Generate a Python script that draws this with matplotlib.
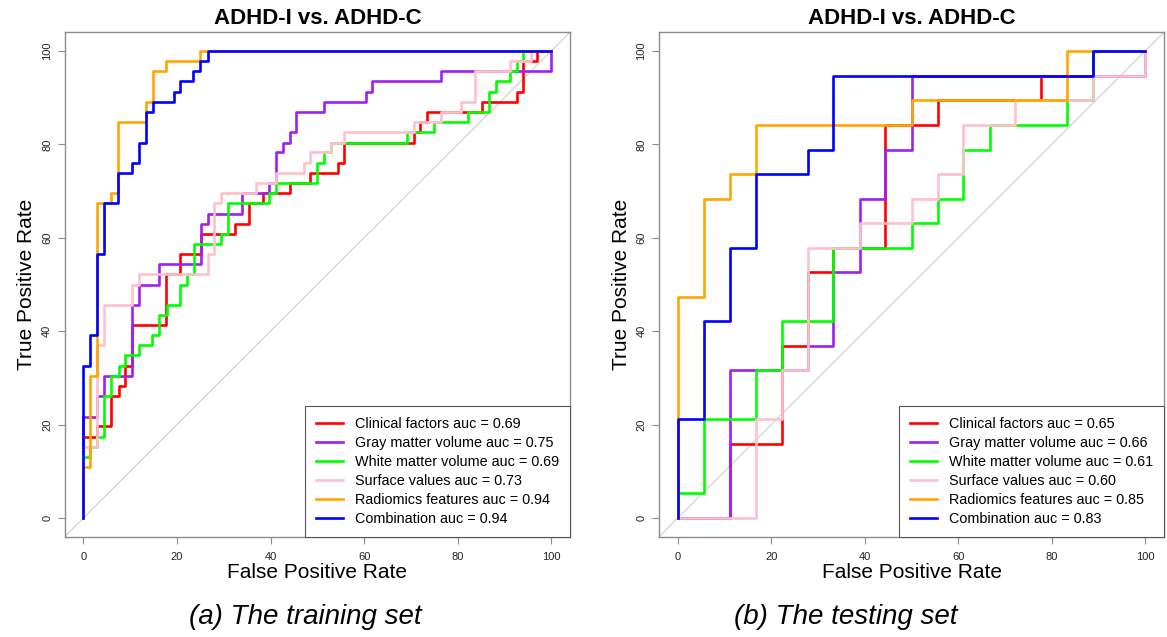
import matplotlib
matplotlib.use("Agg")
import matplotlib.pyplot as plt

plt.rcParams['font.family'] = ['Liberation Sans', 'DejaVu Sans']

# ROC points (FPR %, TPR %), drawn as steps
# --- training set ---
tr_red_fpr = [0, 0, 3.0, 5.9, 7.5, 8.9, 10.3, 17.7, 20.7, 25.1, 32.4, 35.4, 38.3, 44.1, 48.5, 54.4, 55.8, 70.6, 71.9, 73.4, 85.2, 92.7, 93.9, 97.0, 100]
tr_red_tpr = [0, 17.4, 19.6, 26.1, 28.3, 32.6, 41.3, 52.2, 56.5, 60.9, 63.0, 67.4, 69.6, 71.7, 73.9, 76.1, 80.4, 82.6, 84.8, 87.0, 89.1, 91.3, 97.8, 100, 100]
tr_purple_fpr = [0, 0, 3.0, 4.5, 10.3, 11.9, 16.2, 25.1, 26.6, 33.8, 39.7, 41.1, 42.7, 44.1, 45.5, 51.4, 60.3, 61.7, 76.4, 100]
tr_purple_tpr = [0, 21.7, 26.1, 30.4, 45.7, 50.0, 54.3, 63.0, 65.2, 69.6, 71.7, 78.3, 80.4, 82.6, 87.0, 89.1, 91.3, 93.5, 95.7, 100]
tr_green_fpr = [0, 0, 1.5, 3.0, 4.5, 5.9, 7.5, 8.9, 11.9, 14.7, 16.2, 17.8, 20.7, 22.1, 23.7, 29.4, 30.9, 39.7, 41.1, 50.0, 51.4, 53.0, 69.1, 75.0, 82.3, 86.7, 88.1, 91.1, 92.7, 93.9, 100]
tr_green_tpr = [0, 13.0, 15.2, 17.4, 26.1, 30.4, 32.6, 34.8, 37.0, 39.1, 43.5, 45.7, 50.0, 52.2, 58.7, 60.9, 67.4, 69.6, 71.7, 76.1, 78.3, 80.4, 82.6, 84.8, 87.0, 91.3, 93.5, 95.7, 97.8, 100, 100]
tr_pink_fpr = [0, 0, 3.0, 4.5, 10.3, 11.9, 26.6, 28.0, 29.4, 36.8, 41.1, 47.1, 48.4, 53.0, 55.8, 70.6, 76.4, 80.8, 83.8, 91.1, 95.6, 100]
tr_pink_tpr = [0, 15.2, 37.0, 45.7, 50.0, 52.2, 56.5, 67.4, 69.6, 71.7, 73.9, 76.1, 78.3, 80.4, 82.6, 84.8, 87.0, 89.1, 95.7, 97.8, 100, 100]
tr_orange_fpr = [0, 0, 1.5, 3.0, 5.9, 7.4, 13.4, 14.8, 17.7, 24.9, 100]
tr_orange_tpr = [0, 10.9, 30.4, 67.4, 69.6, 84.8, 89.1, 95.7, 97.8, 100, 100]
tr_blue_fpr = [0, 0, 1.5, 3.0, 4.5, 7.4, 10.3, 11.9, 13.4, 14.8, 19.3, 20.7, 23.5, 24.9, 26.6, 100]
tr_blue_tpr = [0, 32.6, 39.1, 56.5, 67.4, 73.9, 76.1, 80.4, 87.0, 89.1, 91.3, 93.5, 95.7, 97.8, 100, 100]

# --- testing set ---
te_red_fpr = [0, 11.1, 22.2, 27.8, 33.3, 44.4, 55.6, 77.8, 88.9, 100]
te_red_tpr = [0, 15.8, 36.8, 52.6, 57.9, 84.2, 89.5, 94.7, 100, 100]
te_purple_fpr = [0, 11.1, 27.8, 33.3, 38.9, 44.4, 50.0, 100]
te_purple_tpr = [0, 31.6, 36.8, 52.6, 68.4, 78.9, 94.7, 100]
te_green_fpr = [0, 0, 5.6, 16.7, 22.2, 33.3, 50.0, 55.6, 61.1, 66.7, 83.3, 88.9, 100]
te_green_tpr = [0, 5.3, 21.1, 31.6, 42.1, 57.9, 63.2, 68.4, 78.9, 84.2, 89.5, 100, 100]
te_pink_fpr = [0, 16.7, 22.2, 27.8, 38.9, 50.0, 55.6, 61.1, 72.2, 88.9, 100]
te_pink_tpr = [0, 21.1, 31.6, 57.9, 63.2, 68.4, 73.7, 84.2, 89.5, 94.7, 100]
te_orange_fpr = [0, 0, 5.6, 11.1, 16.7, 50.0, 83.3, 100]
te_orange_tpr = [0, 47.4, 68.4, 73.7, 84.2, 89.5, 100, 100]
te_blue_fpr = [0, 0, 5.6, 11.1, 16.7, 27.8, 33.3, 88.9, 100]
te_blue_tpr = [0, 21.1, 42.1, 57.9, 73.7, 78.9, 94.7, 100, 100]

names = ['Clinical factors', 'Gray matter volume', 'White matter volume',
         'Surface values', 'Radiomics features', 'Combination']
colors = ['#FF0000', '#A020F0', '#00FF00', '#FFC0CB', '#FFA500', '#0000FF']
train_auc = [0.69, 0.75, 0.69, 0.73, 0.94, 0.94]
test_auc = [0.65, 0.66, 0.61, 0.60, 0.85, 0.83]

train = [(tr_red_fpr, tr_red_tpr), (tr_purple_fpr, tr_purple_tpr), (tr_green_fpr, tr_green_tpr),
         (tr_pink_fpr, tr_pink_tpr), (tr_orange_fpr, tr_orange_tpr), (tr_blue_fpr, tr_blue_tpr)]
test = [(te_red_fpr, te_red_tpr), (te_purple_fpr, te_purple_tpr), (te_green_fpr, te_green_tpr),
        (te_pink_fpr, te_pink_tpr), (te_orange_fpr, te_orange_tpr), (te_blue_fpr, te_blue_tpr)]

W, H = 1167, 637
fig = plt.figure(figsize=(W / 100, H / 100), dpi=100)
ax1 = fig.add_axes([64.7 / W, (H - 536.7) / H, 505.3 / W, 504.4 / H])
ax2 = fig.add_axes([659 / W, (H - 536.7) / H, 505 / W, 504.4 / H])

gray = '#8c8c8c'


def draw(ax, curves, aucs):
    ax.axline((0, 0), (1, 1), color='#d3d3d3', lw=0.9, zorder=1)
    handles = []
    for (fpr, tpr), c, n, a in zip(curves, colors, names, aucs):
        h, = ax.plot(fpr, tpr, drawstyle='steps-post', color=c, lw=1.9,
                     label='{} auc = {:.2f}'.format(n, a), zorder=2)
        handles.append(h)
    ax.set_xlim(-4, 104)
    ax.set_ylim(-4, 104)
    ax.set_xticks([0, 20, 40, 60, 80, 100])
    ax.set_yticks([0, 20, 40, 60, 80, 100])
    ax.tick_params(length=5, width=0.8, color=gray, labelsize=8, labelcolor='#222222')
    ax.tick_params(axis='x', pad=6)
    ax.tick_params(axis='y', pad=4)
    for lab in ax.get_yticklabels():
        lab.set_rotation(90)
        lab.set_va('center')
    for s in ax.spines.values():
        s.set_color(gray)
        s.set_linewidth(1.0)
    ax.text(0.5, 1 + 14.3 / 504.4, 'ADHD-I vs. ADHD-C', transform=ax.transAxes,
            ha='center', va='center', fontsize=16, fontweight='bold')
    ax.text(0.5, -36 / 504.4, 'False Positive Rate', transform=ax.transAxes,
            ha='center', va='center', fontsize=15)
    ax.text(-37.7 / 505, 0.5, 'True Positive Rate', transform=ax.transAxes,
            ha='center', va='center', fontsize=15, rotation=90)
    leg = ax.legend(handles=handles, loc='lower right', bbox_to_anchor=(1, 0),
                    borderaxespad=0, fancybox=False, edgecolor='#555555',
                    fontsize=10.4, handlelength=1.9, handletextpad=0.8,
                    labelspacing=0.34, borderpad=0.75, framealpha=1)
    leg.get_frame().set_linewidth(0.8)


draw(ax1, train, train_auc)
draw(ax2, test, test_auc)

fig.text(305 / W, 1 - 617 / H, '(a) The training set', ha='center', va='center',
         fontsize=20, style='italic')
fig.text(846 / W, 1 - 617 / H, '(b) The testing set', ha='center', va='center',
         fontsize=20, style='italic')

fig.savefig('out.png', dpi=100)
